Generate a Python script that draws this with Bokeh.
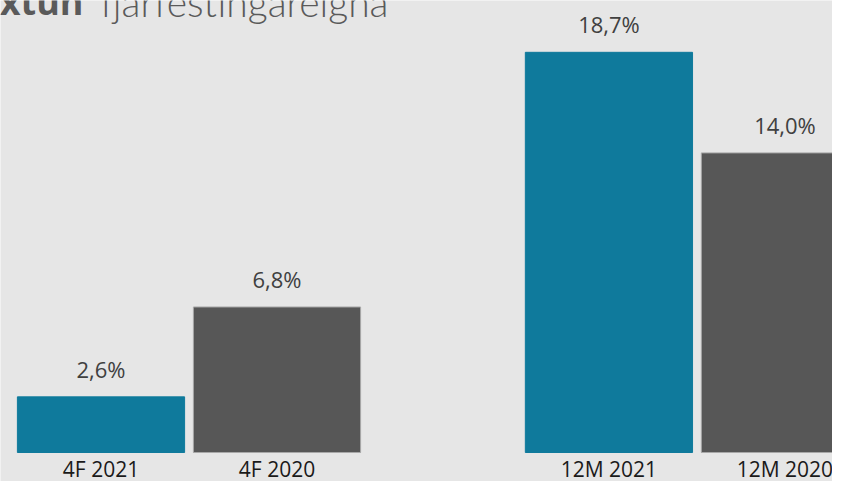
from bokeh.plotting import figure
from bokeh.models import ColumnDataSource, Range1d, Label
from bokeh.core.properties import value
from bokeh.embed import file_html
from bokeh.resources import INLINE

# ---- data ----
periods = ["4F", "4F", "12M", "12M"]
years = ["2021", "2020", "2021", "2020"]
labels = ["4F 2021", "4F 2020", "12M 2021", "12M 2020"]
returns = [2.6, 6.8, 18.7, 14.0]
value_texts = ["2,6%", "6,8%", "18,7%", "14,0%"]
title_bold = "Ávöxtun"
title_light = "fjárfestingareigna"

# ---- styling ----
year_colors = {"2021": "#0f7a9c", "2020": "#575757"}
year_lines = {"2021": "#0f7a9c", "2020": "#a8a8a8"}
BG = "#e6e6e6"
GROUP_GAP = 0.886
BAR_W = 0.95

# x positions from category order (bar slot = 1 unit, extra gap between period groups)
group_order = []
for pr in periods:
    if pr not in group_order:
        group_order.append(pr)
xs = []
for i, pr in enumerate(periods):
    xs.append(i + group_order.index(pr) * GROUP_GAP)

src = ColumnDataSource(dict(
    x=xs,
    top=returns,
    zero=[0] * len(returns),
    color=[year_colors[y] for y in years],
    lcolor=[year_lines[y] for y in years],
    vtext=value_texts,
    ctext=labels,
))

W, H = 832, 481
PX_X = 176.0
PX_Y = 21.4
x0 = -100.5 / PX_X
y0 = -(H - 452) / PX_Y

p = figure(width=W, height=H, output_backend="svg", toolbar_location=None,
           x_axis_location=None, y_axis_location=None,
           x_range=Range1d(x0, x0 + W / PX_X), y_range=Range1d(y0, y0 + H / PX_Y),
           min_border=0, background_fill_color=BG, border_fill_color=BG,
           outline_line_color=None)
p.grid.visible = False

p.vbar(x="x", top="top", bottom=0, width=BAR_W, source=src,
       fill_color="color", line_color="lcolor", line_width=1)

p.text(x="x", y="top", text="vtext", source=src, text_align="center",
       text_baseline="alphabetic", y_offset=-28, text_color="#404040",
       text_font=value("Open Sans"), text_font_size="22px")

p.text(x="x", y="zero", text="ctext", source=src, text_align="center",
       text_baseline="alphabetic", y_offset=16, text_color="#1a1a1a",
       text_font=value("Open Sans"), text_font_size="21px")

p.add_layout(Label(x=83, y=H - 1, x_units="screen", y_units="screen",
                   text=title_bold, text_align="right", text_baseline="alphabetic",
                   text_font="Open Sans", text_font_style="bold",
                   text_font_size="36px", text_color="#5a5a5a"))
p.add_layout(Label(x=100, y=H - 1, x_units="screen", y_units="screen",
                   text=title_light, text_align="left", text_baseline="alphabetic",
                   text_font="Lato Light", text_font_size="39px",
                   text_color="#5a5a5a"))

open("out.html", "w").write(file_html(p, INLINE))
